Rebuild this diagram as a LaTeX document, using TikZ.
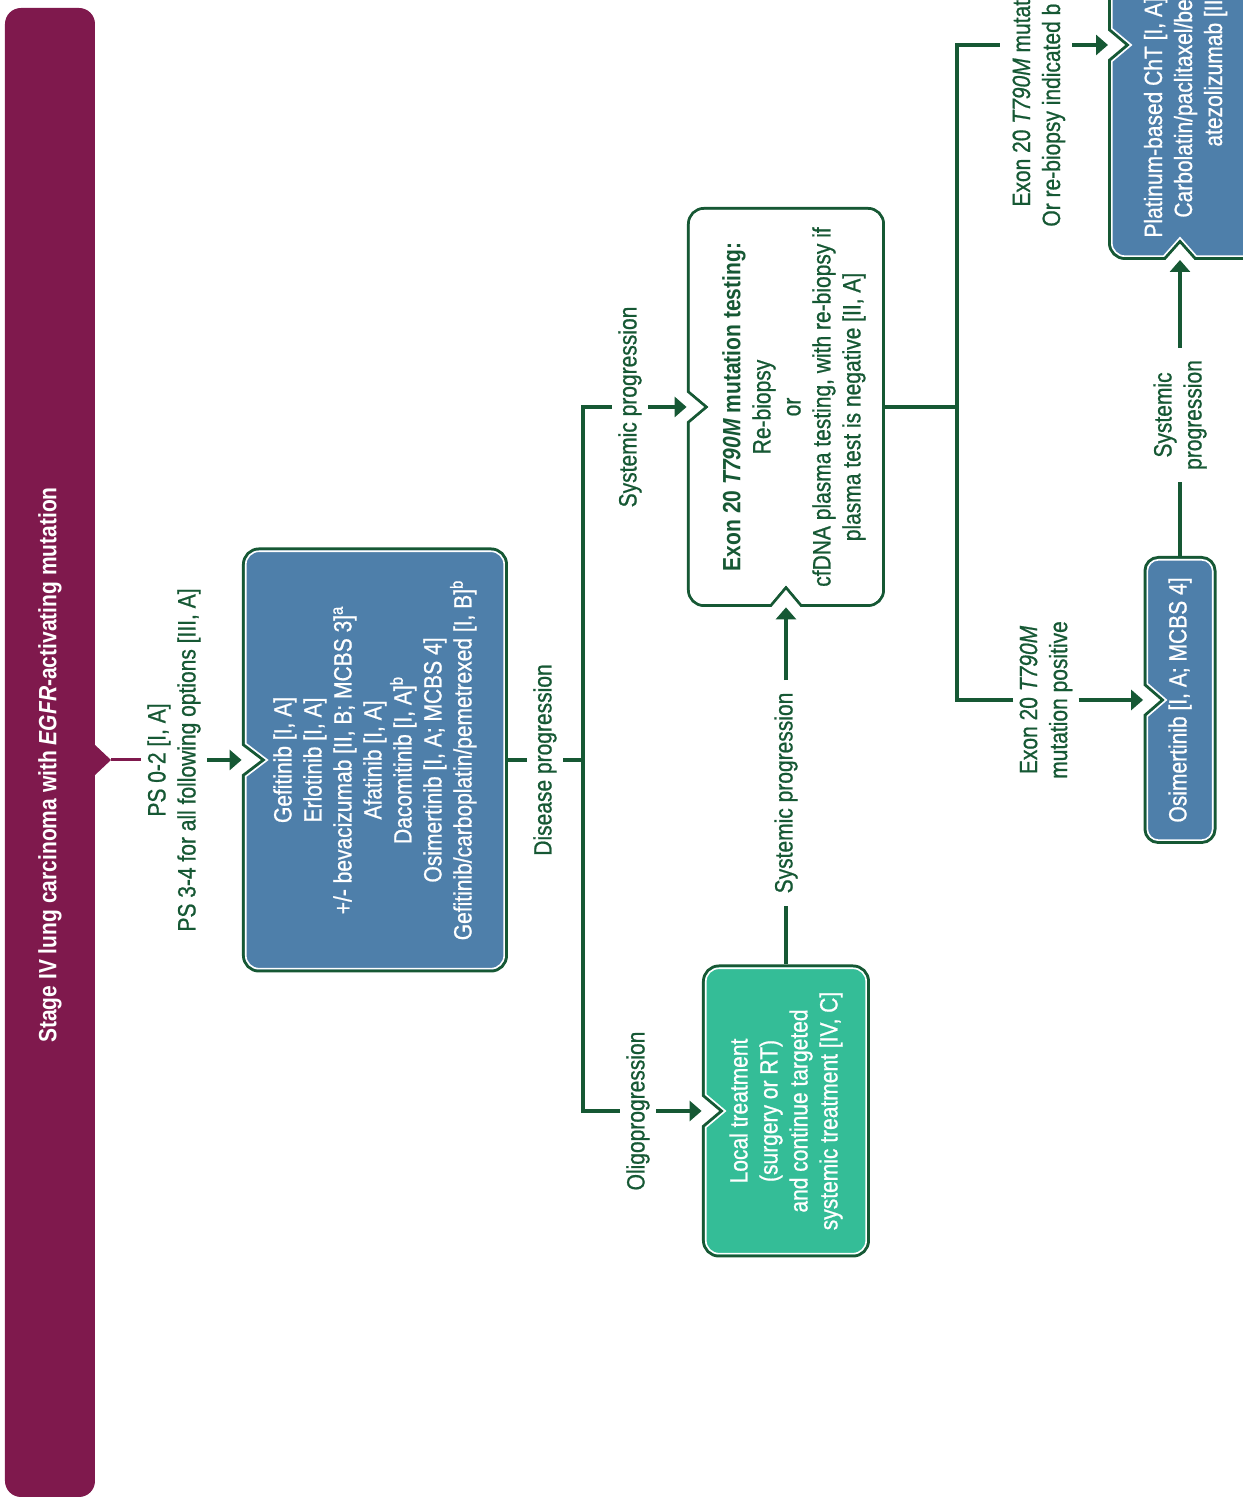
\documentclass[tikz,border=0pt]{standalone}
\usepackage{fontspec}
\setmainfont{Liberation Sans}[FakeStretch=0.84,UprightFeatures={FakeBold=0.8},ItalicFeatures={FakeBold=0.8}]
\usetikzlibrary{arrows.meta}
\definecolor{dkgreen}{RGB}{22,88,52}
\definecolor{plum}{RGB}{127,25,77}
\definecolor{boxblue}{RGB}{78,127,170}
\definecolor{boxgreen}{RGB}{52,189,151}
\newcommand{\notchbox}[2]{%
  \draw[dkgreen,line width=3pt] #2;
  \begin{scope}
    \clip #2;
    \fill[#1] #2;
    \draw[white,line width=1.6pt] #2;
  \end{scope}}

\begin{document}
\begin{tikzpicture}[rotate=90,transform shape,x=0.5pt,y=0.5pt,
  font=\fontsize{12.5pt}{15pt}\selectfont,align=center,
  lbl/.style={text=dkgreen,inner xsep=6pt,inner ysep=3pt},
  boxtxt/.style={text=white,inner sep=0pt},
  conn/.style={dkgreen,line width=1.7pt},
  arr/.style={conn,-{Triangle[length=6pt,width=10pt]}}]
  \useasboundingbox (0,0) rectangle (1498,1242);
  \fill[plum,rounded corners=8pt] (1,1147) rectangle (1490,1237);
  \fill[plum] (722,1148) -- (738,1131) -- (754,1148) -- cycle;
  \coordinate (tip) at (738,1131);
  \node[text=white,font=\fontsize{12.5pt}{15pt}\selectfont\bfseries] (title) at (733,1192) {Stage IV lung carcinoma with \textit{EGFR}-activating mutation};
  \node[lbl] (ps) at (738,1068) {PS 0-2 [I, A]\\PS 3-4 for all following options [III, A]};
  \notchbox{boxblue}{[rounded corners=7pt] (528.5,737) -- (528.5,997) -- (620,997) [sharp corners] -- (722,997) -- (738,976) -- (754,997) -- (850,997) [rounded corners=7pt] -- (947.5,997) -- (947.5,737) -- cycle}
  \node[boxtxt,minimum width=212.5pt,minimum height=133pt] (first) at (738,867) {Gefitinib [I, A]\\Erlotinib [I, A]\\+/- bevacizumab [II, B; MCBS 3]\textsuperscript{a}\\Afatinib [I, A]\\Dacomitinib [I, A]\textsuperscript{b}\\Osimertinib [I, A; MCBS 4]\\Gefitinib/carboplatin/pemetrexed [I, B]\textsuperscript{b}};
  \node[lbl] (dis) at (738,697) {Disease progression};
  \coordinate (split) at (738,659);
  \node[lbl] (sys1) at (1091,612) {Systemic progression};
  \node[lbl] (oligo) at (387,604) {Oligoprogression};
  \notchbox{white}{[rounded corners=7pt] (894,360) -- (894,400) [sharp corners] -- (894,440) -- (913,456) -- (894,472) -- (894,510) [rounded corners=7pt] -- (894,552) -- (990,552) [sharp corners] -- (1075,552) -- (1091,533) -- (1107,552) -- (1200,552) [rounded corners=7pt] -- (1288,552) -- (1288,360) -- cycle}
  \node[boxtxt,text=dkgreen,minimum width=200pt,minimum height=99pt] (testing) at (1091,456) {\rule{0pt}{17pt}\textbf{Exon 20 \textit{T790M} mutation testing:}\\Re-biopsy\\or\\cfDNA plasma testing, with re-biopsy if\\plasma test is negative [II, A]};
  \notchbox{boxgreen}{[rounded corners=7pt] (243.5,375) -- (243.5,537) -- (300,537) [sharp corners] -- (371,537) -- (387,518) -- (403,537) -- (470,537) [rounded corners=7pt] -- (530.5,537) -- (530.5,375) -- cycle}
  \node[boxtxt,minimum width=146.5pt,minimum height=84pt] (local) at (387,456) {Local treatment\\(surgery or RT)\\and continue targeted\\systemic treatment [IV, C]};
  \node[lbl] (sys2) at (705,456) {Systemic progression};
  \draw[plum,line width=1.5pt] (tip) -- (ps);
  \draw[arr] (ps) -- (first.north);
  \draw[conn] (first) -- (dis);
  \draw[conn] (dis) -- (split);
  \draw[conn] (oligo) |- (split) -| (sys1);
  \draw[arr] (sys1) -- (testing.north);
  \draw[arr] (oligo) -- (local.north);
  \draw[conn] (local) -- (sys2);
  \draw[arr] (sys2) -- (testing.west);
  \coordinate (split2) at (1091,285);
  \draw[conn] (testing) -- (split2);
  \notchbox{boxblue}{[rounded corners=7pt] (1241,-200) -- (1241,0) [sharp corners] -- (1241,46) -- (1259,62) -- (1241,78) -- (1241,100) [rounded corners=7pt] -- (1241,131) -- (1350,131) [sharp corners] -- (1437,131) -- (1453,112) -- (1469,131) -- (1550,131) [rounded corners=7pt] -- (1700,131) -- (1700,-200) -- cycle}
  \coordinate (platN) at (1453,134);
  \coordinate (platW) at (1238,62);
  \node[boxtxt,anchor=base west] (plat1) at (1260,80) {Platinum-based ChT [I, A]};
  \node[boxtxt,anchor=base west] (plat2) at (1280,50) {Carbolatin/paclitaxel/be};
  \node[boxtxt,anchor=base west] (plat3) at (1351,20) {atezolizumab [II};
  \node[lbl,inner sep=0pt,anchor=base west] (neg1) at (1291,212) {Exon 20 \textit{T790M} mutat};
  \node[lbl,inner sep=0pt,anchor=base west] (neg2) at (1271,182) {Or re-biopsy indicated b};
  \coordinate (negtop) at (1453,242);
  \coordinate (negbot) at (1453,170);
  \node[lbl] (pos) at (798,196) {Exon 20 \textit{T790M}\\mutation positive};
  \draw[conn] (pos) |- (split2) -| (negtop);
  \draw[arr] (negbot) -- (platN);
  \notchbox{boxblue}{[rounded corners=6pt] (657,28.5) -- (657,95.5) -- (720,95.5) [sharp corners] -- (782,95.5) -- (798,77) -- (814,95.5) -- (870,95.5) [rounded corners=6pt] -- (939,95.5) -- (939,28.5) -- cycle}
  \node[boxtxt,minimum width=144pt,minimum height=36.5pt] (osim) at (798,62) {Osimertinib [I, A; MCBS 4]};
  \draw[arr] (pos) -- (osim.north);
  \node[lbl] (sys3) at (1083,62) {Systemic\\progression};
  \draw[conn] (osim) -- (sys3);
  \draw[arr] (sys3) -- (platW);
\end{tikzpicture}
\end{document}
